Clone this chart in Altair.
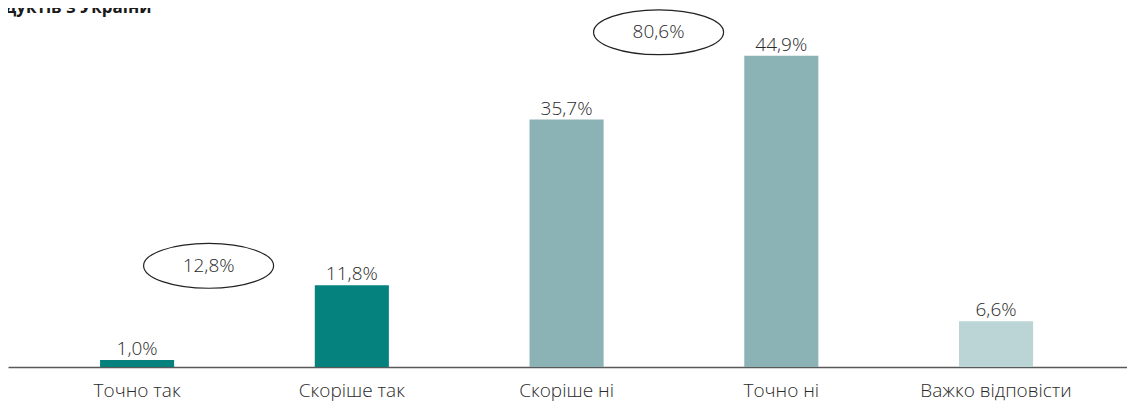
import altair as alt
import pandas as pd

categories = ["Точно так", "Скоріше так", "Скоріше ні", "Точно ні", "Важко відповісти"]
values = [1.0, 11.8, 35.7, 44.9, 6.6]
value_labels = ["1,0%", "11,8%", "35,7%", "44,9%", "6,6%"]
total_yes = "12,8%"
total_no = "80,6%"
title_text = "дуктів з України"

bar_colors = ["#05827E", "#05827E", "#8BB2B5", "#8BB2B5", "#BBD4D6"]
FONT = "Open Sans"
TXT = "#2a2a2a"

df = pd.DataFrame({"cat": categories, "val": values, "lab": value_labels})

xscale = alt.Scale(domain=categories, paddingInner=0.655, paddingOuter=0.433, align=0.495)
yscale = alt.Scale(domain=[0, 51.8])

x_enc = alt.X("cat:N", scale=xscale, sort=categories,
              axis=alt.Axis(title=None, labelAngle=0, ticks=False, labelPadding=14,
                            labelFont=FONT, labelFontSize=19, labelFontWeight=300,
                            labelColor=TXT,
                            domainColor="#595959", domainWidth=1.5, grid=False))

base = alt.Chart(df)

bars = base.mark_bar().encode(
    x=x_enc,
    y=alt.Y("val:Q", scale=yscale, axis=None),
    color=alt.Color("cat:N", scale=alt.Scale(domain=categories, range=bar_colors), legend=None),
)

labels = base.mark_text(baseline="alphabetic", dy=-5, font=FONT, fontSize=19,
                        fontWeight=300, color=TXT).encode(
    x=alt.X("cat:N", scale=xscale, sort=categories),
    y=alt.Y("val:Q", scale=yscale),
    text="lab:N",
)

ELLIPSE = "M-1,0A1,0.345,0,1,0,1,0A1,0.345,0,1,0,-1,0Z"

def oval(anchor, label, yval, xoff):
    d = pd.DataFrame({"cat": [anchor], "lab": [label], "y": [yval]})
    c = alt.Chart(d)
    ring = c.mark_point(shape=ELLIPSE, filled=False, size=16900, stroke="#222222",
                        strokeWidth=1.2, opacity=1, xOffset=xoff).encode(
        x=alt.X("cat:N", scale=xscale, sort=categories),
        y=alt.Y("y:Q", scale=yscale),
    )
    txt = c.mark_text(font=FONT, fontSize=19, fontWeight=300, color=TXT,
                      baseline="middle", xOffset=xoff).encode(
        x=alt.X("cat:N", scale=xscale, sort=categories),
        y=alt.Y("y:Q", scale=yscale),
        text="lab:N",
    )
    return ring + txt

oval_yes = oval("Точно так", total_yes, 14.6, 71.5)
oval_no = oval("Скоріше ні", total_no, 48.3, 92)

title = alt.Chart(pd.DataFrame({"t": [title_text]})).mark_text(
    font=FONT, fontSize=17, fontWeight="bold", color="#1a1a1a", align="left",
    baseline="alphabetic").encode(
    x=alt.value(-3), y=alt.value(5), text="t:N")

chart = alt.layer(bars, labels, oval_yes, oval_no, title).properties(
    width=1119, height=359,
    autosize=alt.AutoSizeParams(type="none"),
    padding={"left": 0, "top": 0, "right": 0, "bottom": 34},
).configure_view(stroke=None)

chart.save("out.html", embed_options={"renderer": "svg", "actions": False})
